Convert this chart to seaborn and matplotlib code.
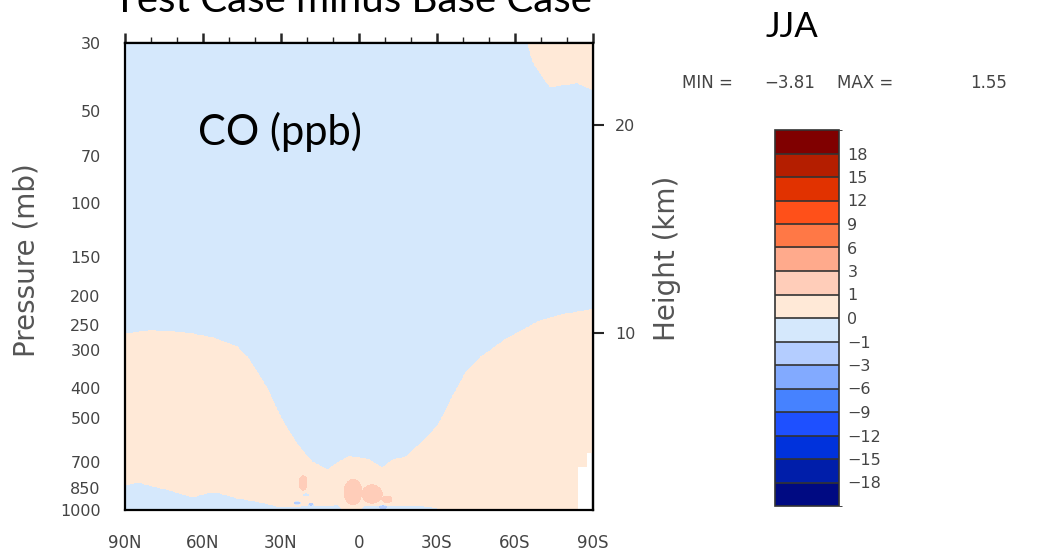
import numpy as np
import matplotlib
matplotlib.use("Agg")
import matplotlib.pyplot as plt
import seaborn as sns
from matplotlib.colors import ListedColormap, BoundaryNorm
from matplotlib.cm import ScalarMappable
from matplotlib.ticker import NullLocator

sns.set_style("white")
plt.rcParams["font.family"] = ["DejaVu Sans"]

# =========================
# Data
# =========================
# contour levels and class colours, bottom to top of the colour bar
levels = [-18, -15, -12, -9, -6, -3, -1, 0, 1, 3, 6, 9, 12, 15, 18]
level_colors = ["#000a82", "#001eaa", "#0032dc", "#1e50ff", "#4682ff", "#82aaff",
                "#b4cdff", "#d5e8fc", "#ffe9d7", "#ffcdb9", "#ffaa8c", "#ff7846",
                "#ff5019", "#e13200", "#b41e00", "#800000"]

# upper edge of the near-surface positive layer (hPa), by latitude
upper_lat = [-90, -78, -69, -56, -47, -41, -36, -30, -24, -18, -13, -9, -4, 0, 4,
             8, 12, 18, 23, 28, 31, 35, 39, 43, 47, 56, 66, 80, 90]
upper_p = [222, 231, 243, 279, 317, 357, 427, 536, 604, 672, 687, 730, 687, 675, 672,
           700, 740, 697, 623, 536, 483, 406, 357, 317, 294, 275, 265, 260, 267]

# top of the thin negative layer next to the ground (hPa)
lower_lat = [-90, -32, -30, -25, -15, -2, 0, 6, 8, 20, 30, 38, 47, 55, 58, 64, 73, 85, 90]
lower_p = [1010, 1010, 985, 970, 966, 968, 1005, 1005, 965, 968, 978, 942, 914, 873,
           879, 906, 861, 812, 829]

# positive patch in the upper right corner (bottom edge, hPa)
top_lat = [-90, -84, -73.5, -67, -65, -64.5]
top_p = [42.6, 40.4, 41.6, 34.6, 30, 20]

# small cells near the surface
cell_lat = [21.5, 2.3, -5.0, -10.8, 23.8, 18.5, -9.2, 20.4]
cell_p = [816, 874, 887, 924, 949, 957, 978, 894]
cell_dlat = [1.5, 3.3, 3.8, 1.9, 1.5, 1.2, 1.9, 1.5]
cell_dlogp = [0.023, 0.041, 0.029, 0.01, 0.007, 0.007, 0.008, 0.007]
cell_val = [2, 2, 2, 2, -2, -2, -2, -0.5]

# below-ground (missing) region over Antarctica
missing_lat = [-84.2, -87.7]
missing_p = [724, 651]

p_ticks = [30, 50, 70, 100, 150, 200, 250, 300, 400, 500, 700, 850, 1000]
lat_ticks = [90, 60, 30, 0, -30, -60, -90]
lat_labels = ["90N", "60N", "30N", "0", "30S", "60S", "90S"]
height_ticks = [10, 20]

# =========================
# Build the field
# =========================
lat = np.linspace(-90, 90, 721)
logp = np.linspace(np.log10(30), 3, 700)
LAT, LOGP = np.meshgrid(lat, logp)
P = 10 ** LOGP

up = np.interp(LAT, upper_lat, upper_p)
lo = np.interp(LAT, lower_lat, lower_p)
tp = np.interp(LAT, top_lat, top_p)
field = np.where(P > up, 0.5, -0.5)
field[P > lo] = -0.5
field[P < tp] = 0.5
for la, pc, dla, dlp, v in zip(cell_lat, cell_p, cell_dlat, cell_dlogp, cell_val):
    inside = ((LAT - la) / dla) ** 2 + ((LOGP - np.log10(pc)) / dlp) ** 2 < 1
    field[inside] = v
for la, pm in zip(missing_lat, missing_p):
    field[(LAT < la) & (P > pm)] = np.nan

bounds = [-21] + levels + [21]
cmap = ListedColormap(sns.color_palette(level_colors))
norm = BoundaryNorm(bounds, cmap.N)

# =========================
# Plot
# =========================
W, H = 1042, 553
fig = plt.figure(figsize=(W / 100, H / 100), dpi=100)
ax = fig.add_axes([125 / W, 1 - 510 / H, 468 / W, 467 / H])
ax.contourf(LAT, P, field, levels=bounds, colors=level_colors)
ax.set_yscale("log")
ax.set_xlim(90, -90)
ax.set_ylim(1000, 30)

gray = "#444444"
ax.set_yticks(p_ticks)
ax.set_yticklabels([str(p) for p in p_ticks])
ax.yaxis.set_minor_locator(NullLocator())
ax.set_xticks(lat_ticks)
ax.set_xticklabels(lat_labels)
ax.set_xticks(np.arange(-80, 90, 10), minor=True)
ax.tick_params(axis="y", which="major", direction="out", length=9.5, width=1.5,
               pad=8, labelsize=11.5, labelcolor=gray)
ax.tick_params(axis="x", which="major", direction="out", length=11, width=1.8,
               pad=6, labelsize=12, labelcolor=gray)
ax.tick_params(axis="x", which="minor", direction="out", length=5, width=1)
for s in ax.spines.values():
    s.set_linewidth(1.6)
    s.set_color("black")

# top ticks
top = ax.secondary_xaxis("top")
top.set_xticks(lat_ticks)
top.set_xticks(np.arange(-80, 90, 10), minor=True)
top.set_xticklabels([])
top.tick_params(which="major", direction="out", length=7, width=1.8)
top.tick_params(which="minor", direction="out", length=4, width=1)
top.spines["top"].set_linewidth(1.6)

# height axis on the right
H_SCALE, P0 = 6.40, 1263.0
right = ax.secondary_yaxis("right", functions=(lambda p: H_SCALE * np.log(P0 / p),
                                               lambda z: P0 * np.exp(-z / H_SCALE)))
right.set_yticks(height_ticks)
right.set_yticklabels([str(z) for z in height_ticks])
right.yaxis.set_minor_locator(NullLocator())
right.tick_params(direction="out", length=8, width=1.5, pad=8, labelsize=11.5,
                  labelcolor=gray)
right.spines["right"].set_linewidth(1.6)

fig.text(27 / W, 1 - 260 / H, "Pressure (mb)", rotation=90, ha="center", va="center",
         fontsize=20, color="#555555")
fig.text(667 / W, 1 - 258 / H, "Height (km)", rotation=90, ha="center", va="center",
         fontsize=20, color="#555555")

# titles
fig.text(113 / W, 1 - 12 / H, "Test Case minus Base Case", ha="left", va="baseline",
         fontsize=29, family=["Lato", "DejaVu Sans"], color="black")
fig.text(792 / W, 1 - 37 / H, "JJA", ha="center", va="baseline",
         fontsize=25, family=["Lato", "DejaVu Sans"], color="black")
ax.text(198 / W, 1 - 145 / H, "CO (ppb)", transform=fig.transFigure, ha="left",
        va="baseline", fontsize=30, family=["Lato", "DejaVu Sans"], color="black")

# MIN / MAX line
ymm = 1 - 83 / H
fig.text(682 / W, ymm, "MIN =", ha="left", va="center", fontsize=12, color=gray)
fig.text(815 / W, ymm, "\u22123.81", ha="right", va="center", fontsize=12, color=gray)
fig.text(837 / W, ymm, "MAX =", ha="left", va="center", fontsize=12, color=gray)
fig.text(1007 / W, ymm, "1.55", ha="right", va="center", fontsize=12, color=gray)

# colour bar
cax = fig.add_axes([775 / W, 1 - 506 / H, 64 / W, 376 / H])
cb = fig.colorbar(ScalarMappable(norm=norm, cmap=cmap), cax=cax, boundaries=bounds,
                  spacing="uniform", drawedges=True, ticks=levels)
cb.ax.set_yticklabels([str(v).replace("-", "\u2212") for v in levels])
cb.ax.tick_params(length=0, pad=6, labelsize=11.5, labelcolor=gray)
cb.outline.set_linewidth(1.2)
cb.outline.set_edgecolor("#333333")
cb.dividers.set_color("#333333")
cb.dividers.set_linewidth(1.2)

fig.savefig("out.png", dpi=100)
